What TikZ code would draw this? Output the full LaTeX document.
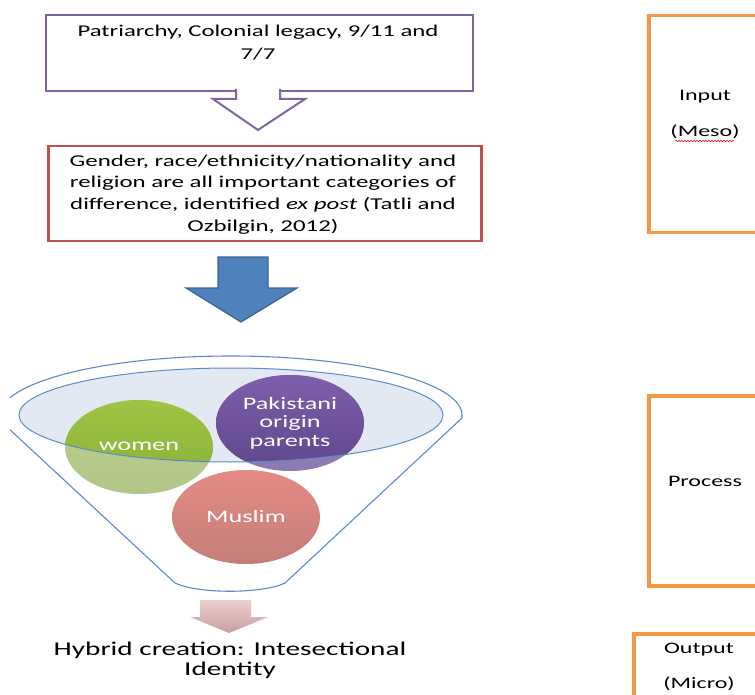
\documentclass[tikz,border=0pt]{standalone}
\usepackage{fontspec}
\setmainfont{Carlito}[FakeStretch=1.5]
\usetikzlibrary{decorations.pathmorphing}

\definecolor{boxpurple}{HTML}{8064A2}
\definecolor{boxred}{HTML}{C0504D}
\definecolor{boxorange}{HTML}{F79646}
\definecolor{arrowblue}{HTML}{4F81BD}
\definecolor{arrowblueline}{HTML}{3A6394}
\definecolor{funnelline}{HTML}{5B8BC9}
\definecolor{funnelfill}{HTML}{E3E9F3}

\tikzset{
  line/.style={anchor=base, inner sep=0pt, text=black},
  causefont/.style={font=\fontsize{16.5pt}{20pt}\selectfont},
  catfont/.style={font=\fontsize{16.6pt}{21pt}\selectfont},
  circfont/.style={font=\fontsize{17.5pt}{21pt}\selectfont, text=white},
  resultfont/.style={font=\fontsize{19.5pt}{23pt}\selectfont},
  sidefont/.style={font=\fontsize{16pt}{19pt}\selectfont},
  framebox/.style={draw, anchor=north west, inner sep=0pt},
  sidebox/.style={framebox, draw=boxorange, line width=3.5pt},
}

\begin{document}
\begin{tikzpicture}[x=1pt, y=-1pt]
\clip (0,0) rectangle (755,695);
\fill[white] (0,0) rectangle (755,695);

% ---------- causes box with hollow arrow ----------
\node[framebox, draw=boxpurple, line width=2pt, minimum width=427pt, minimum height=76pt] (causes) at (45,14) {};
\fill[white] (237,88) -- (237,99) -- (213,99) -- (258,130) -- (305,99) -- (279,99) -- (279,88) -- cycle;
\draw[boxpurple, line width=2pt, line join=miter]
  (236,89) -- (236,99) -- (213,99) -- (258,130) -- (305,99) -- (280,99) -- (280,89);
\node[line, causefont] (c1) at (258,37) {Patriarchy, Colonial legacy, 9/11 and};
\node[line, causefont] (c2) at (258,60) {7/7};

% ---------- categories box ----------
\node[framebox, draw=boxred, line width=2.5pt, minimum width=433pt, minimum height=95pt] (cats) at (47,145) {};
\node[line, catfont] (k1) at (263,166.5) {Gender, race/ethnicity/nationality and};
\node[line, catfont] (k2) at (263,188) {religion are all important categories of};
\node[line, catfont] (k3) at (263,210) {difference, identified \textit{ex post} (Tatli and};
\node[line, catfont] (k4) at (263,231.5) {Ozbilgin, 2012)};

% ---------- solid blue arrow ----------
\filldraw[fill=arrowblue, draw=arrowblueline, line width=1.2pt, line join=miter]
  (218,257) -- (268,257) -- (268,288) -- (297,288) -- (241,322) -- (186,288) -- (218,288) -- cycle;

% ---------- funnel ----------
\begin{scope}
  \clip (10,340) rectangle (480,600);
  % rim of the funnel (upper half of the outer ellipse)
  \begin{scope}
    \clip (0,340) rectangle (470,415);
    \draw[funnelline, line width=1.1pt] (231,415) ellipse [x radius=231, y radius=59];
  \end{scope}
  \draw[funnelline, line width=1.1pt, line join=round]
    (462,415) -- (462,418) -- (285,583)
    .. controls (262,594) and (198,594) .. (175,583) -- (0,420.5);
  % mouth of the funnel
  \fill[funnelfill] (231,415) ellipse [x radius=212, y radius=47];

  % women
  \shade[top color={rgb,255:red,186;green,206;blue,143}, bottom color={rgb,255:red,178;green,199;blue,135}]
    (139,447) ellipse [x radius=74, y radius=47];
  % Pakistani origin parents
  \shade[top color={rgb,255:red,150;green,130;blue,185}, bottom color={rgb,255:red,140;green,122;blue,175}]
    (290,423) ellipse [x radius=74, y radius=48];
  \begin{scope}
    \clip (231,415) ellipse [x radius=212, y radius=47];
    \shade[top color={rgb,255:red,160;green,197;blue,67}, bottom color={rgb,255:red,134;green,174;blue,58}]
      (139,447) ellipse [x radius=74, y radius=47];
    \shade[top color={rgb,255:red,127;green,95;blue,171}, bottom color={rgb,255:red,94;green,70;blue,140}]
      (290,423) ellipse [x radius=74, y radius=48];
  \end{scope}
  % Muslim
  \shade[top color={rgb,255:red,229;green,139;blue,133}, bottom color={rgb,255:red,196;green,125;blue,120}]
    (246,517) ellipse [x radius=74, y radius=47];

  \draw[funnelline, line width=1pt] (231,415) ellipse [x radius=212, y radius=47];
\end{scope}

\node[line, circfont] (women) at (139,450) {women};
\node[line, circfont] (p1) at (290,409) {Pakistani};
\node[line, circfont] (p2) at (290,427) {origin};
\node[line, circfont] (p3) at (290,446) {parents};
\node[line, circfont] (muslim) at (246,522) {Muslim};

% ---------- pink arrow and result ----------
\shade[top color={rgb,255:red,236;green,205;blue,205}, bottom color={rgb,255:red,199;green,160;blue,161}]
  (200,600) -- (251,600) -- (251,617) -- (268,617) -- (229,633) -- (190,617) -- (200,617) -- cycle;
\node[line, resultfont] (r1) at (230,655) {Hybrid creation: Intesectional};
\node[line, resultfont] (r2) at (230,675) {Identity};

% ---------- level boxes on the right ----------
\node[sidebox, minimum width=130pt, minimum height=217pt] (input) at (647,14) {};
\node[line, sidefont] (in1) at (705,100.5) {Input};
\node[line, sidefont] (in2) at (705,137) {(Meso)};
\draw[red!85!black, line width=0.5pt, decorate, decoration={snake, amplitude=0.7pt, segment length=3pt}]
  (675,141) -- (734,141);

\node[sidebox, minimum width=130pt, minimum height=190pt] (process) at (647,394) {};
\node[line, sidefont] (pr1) at (705,486) {Process};

\node[sidebox, minimum width=145pt, minimum height=90pt] (output) at (632,632) {};
\node[line, sidefont] (out1) at (699,653) {Output};
\node[line, sidefont] (out2) at (699,688) {(Micro)};
\end{tikzpicture}
\end{document}
